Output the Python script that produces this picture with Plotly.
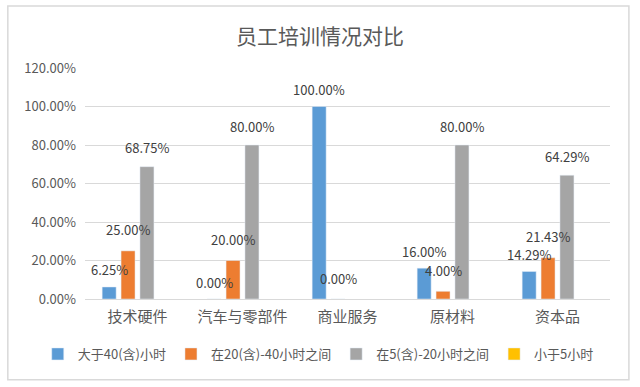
import plotly.graph_objects as go

categories = ["技术硬件", "汽车与零部件", "商业服务", "原材料", "资本品"]
series_names = ["大于40(含)小时", "在20(含)-40小时之间", "在5(含)-20小时之间", "小于5小时"]
s_over40 = [6.25, 0.00, 100.00, 16.00, 14.29]
s_20_40 = [25.00, 20.00, 0.00, 4.00, 21.43]
s_5_20 = [68.75, 80.00, None, 80.00, 64.29]
s_under5 = [None, None, None, None, None]
colors = ["#5B9BD5", "#ED7D31", "#A5A5A5", "#FFC000"]
y_ticks = [0, 20, 40, 60, 80, 100, 120]

font_cjk = "Noto Sans CJK SC, Microsoft YaHei, sans-serif"

W, H = 640, 387
ML, MR, MT, MB = 85, 30, 68, 88
BARGAP = 0.28
plot_w = W - ML - MR
slot = plot_w / len(categories) * (1 - BARGAP) / 4
label_lift = [17, 21, 19, 19]  # pixel lift of value labels above bar tops, per series

fig = go.Figure()
annotations = []
all_series = [s_over40, s_20_40, s_5_20, s_under5]
for i, (name, vals, col) in enumerate(zip(series_names, all_series, colors)):
    fig.add_trace(go.Bar(name=name, x=categories, y=vals, marker_color=col, hoverinfo="skip"))
    for cat, v in zip(categories, vals):
        if v is None:
            continue
        annotations.append(dict(
            x=cat, y=v, xref="x", yref="y", text=f"{v:.2f}%", showarrow=False,
            xshift=(i - 1.5) * slot, yshift=label_lift[i], yanchor="middle", xanchor="center",
            borderpad=0,
            font=dict(size=13, color="#404040", family=font_cjk)))

fig.update_layout(
    width=W, height=H,
    paper_bgcolor="white", plot_bgcolor="rgba(0,0,0,0)",
    margin=dict(l=ML, r=MR, t=MT, b=MB),
    barmode="group", bargap=BARGAP, bargroupgap=0.26,
    title=dict(text="员工培训情况对比", x=0.5, xanchor="center", y=0.905, yanchor="middle",
               font=dict(size=21, color="#595959", family=font_cjk)),
    font=dict(family=font_cjk, color="#595959"),
    showlegend=True,
    legend=dict(orientation="h", x=-0.09, xanchor="left", y=-0.238, yanchor="middle",
                font=dict(size=13, color="#595959"), itemwidth=30, tracegroupgap=0,
                bgcolor="rgba(0,0,0,0)", traceorder="normal"),
    annotations=annotations,
    shapes=[dict(type="rect", xref="paper", yref="paper",
                 x0=-0.147, x1=1.036, y0=-0.35, y1=1.268,
                 fillcolor="rgba(0,0,0,0)", line=dict(color="#d9d9d9", width=1.5), layer="below")],
)
fig.update_yaxes(range=[0, 120], tickvals=y_ticks, ticktext=[f"{v:.2f}%" for v in y_ticks],
                 showgrid=True, gridcolor="#d9d9d9", zeroline=False, showline=False,
                 tickfont=dict(size=13, color="#595959"), ticks="", ticklabelstandoff=8,
                 automargin=False)
fig.update_xaxes(showline=True, linecolor="#d9d9d9", showgrid=False, automargin=False,
                 tickfont=dict(size=15, color="#595959"), ticklabelstandoff=4)

fig.write_html("out.html", config={"displayModeBar": False},
               post_script="document.body.style.margin='0';")
